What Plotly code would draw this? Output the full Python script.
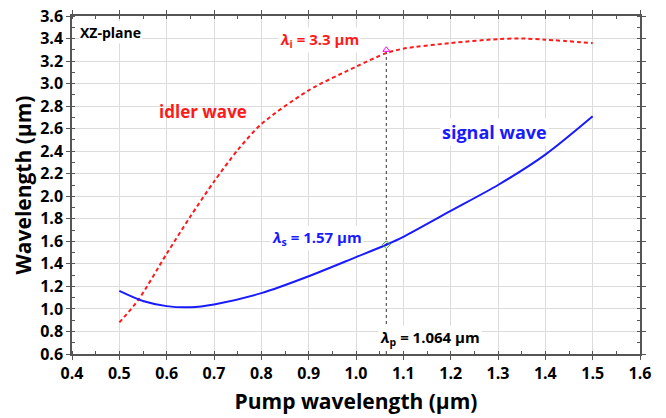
import plotly.graph_objects as go

# Data
idler_x = [0.50, 0.54, 0.60, 0.65, 0.70, 0.75, 0.80, 0.90, 1.00, 1.064, 1.10, 1.20, 1.30, 1.35, 1.40, 1.50]
idler_y = [0.88, 1.08, 1.49, 1.82, 2.13, 2.41, 2.64, 2.94, 3.15, 3.27, 3.31, 3.36, 3.395, 3.40, 3.39, 3.36]

signal_x = [0.50, 0.55, 0.60, 0.65, 0.70, 0.80, 0.90, 1.00, 1.064, 1.10, 1.20, 1.30, 1.40, 1.50]
signal_y = [1.16, 1.07, 1.025, 1.015, 1.04, 1.14, 1.29, 1.46, 1.57, 1.64, 1.87, 2.10, 2.37, 2.71]

pump_wl = 1.064
idler_pt = 3.3
signal_pt = 1.57

x_ticks = [0.4, 0.5, 0.6, 0.7, 0.8, 0.9, 1.0, 1.1, 1.2, 1.3, 1.4, 1.5, 1.6]
y_ticks = [0.6, 0.8, 1.0, 1.2, 1.4, 1.6, 1.8, 2.0, 2.2, 2.4, 2.6, 2.8, 3.0, 3.2, 3.4, 3.6]

FONT = "Open Sans"

fig = go.Figure()
fig.add_trace(go.Scatter(x=[pump_wl, pump_wl], y=[0.6, idler_pt], mode="lines",
                         line=dict(color="#333", width=1, dash="dot"), showlegend=False))
fig.add_trace(go.Scatter(x=idler_x, y=idler_y, mode="lines",
                         line=dict(color="#ff1a1a", width=2, dash="4px,3px", shape="spline", smoothing=0.8),
                         showlegend=False))
fig.add_trace(go.Scatter(x=signal_x, y=signal_y, mode="lines",
                         line=dict(color="#1a1aff", width=2, shape="spline", smoothing=0.8),
                         showlegend=False))
fig.add_trace(go.Scatter(x=[pump_wl], y=[idler_pt], mode="markers",
                         marker=dict(symbol="triangle-up-open", color="#ff00ff", size=6), showlegend=False))
fig.add_trace(go.Scatter(x=[pump_wl], y=[signal_pt], mode="markers",
                         marker=dict(symbol="diamond-open", color="#33aa33", size=6), showlegend=False))

axis_common = dict(
    showline=True, linecolor="#555", linewidth=1.5, mirror="ticks",
    ticks="outside", ticklen=4, tickcolor="#555",
    showgrid=True, gridcolor="#dcdcdc", gridwidth=1,
    tickfont=dict(family=FONT, size=16, color="black", weight="bold"),
    zeroline=False, automargin=False,
)

fig.update_xaxes(range=[0.4, 1.6], tickvals=x_ticks, ticktext=[f"{v:.1f}" for v in x_ticks],
                 minor=dict(dtick=0.05, tick0=0.4, ticks="inside", ticklen=3, tickcolor="#555", showgrid=False),
                 title=dict(text="Pump wavelength (µm)", font=dict(family=FONT, size=21, color="black", weight="bold"), standoff=11),
                 **axis_common)
fig.update_yaxes(range=[0.6, 3.6], tickvals=y_ticks, ticktext=[f"{v:.1f}" for v in y_ticks],
                 minor=dict(dtick=0.1, tick0=0.6, ticks="inside", ticklen=3, tickcolor="#555", showgrid=False),
                 title=dict(text="Wavelength (µm)", font=dict(family=FONT, size=21, color="black", weight="bold"), standoff=3),
                 **axis_common)

def ann(x, y, text, color, size, bg=None, xanchor="left"):
    fig.add_annotation(x=x, y=y, xref="x", yref="y", text=text, showarrow=False,
                       font=dict(family=FONT, size=size, color=color, weight="bold"),
                       xanchor=xanchor, yanchor="middle", bgcolor=bg, borderpad=1)

ann(0.412, 3.45, "XZ-plane", "black", 14, bg="white")
ann(0.676, 2.75, "idler wave", "#ff1a1a", 17, xanchor="center")
ann(0.835, 3.39, "<i>λ</i><sub>i</sub> = 3.3 µm", "#ff1a1a", 15, bg="white")
ann(1.178, 2.57, "signal wave", "#1a1aff", 18, bg="white")
ann(0.818, 1.63, "<i>λ</i><sub>s</sub> = 1.57 µm", "#1a1aff", 15, bg="white")
ann(1.047, 0.74, "<i>λ</i><sub>p</sub> = 1.064 µm", "black", 15, bg="white")

fig.update_layout(width=666, height=418, margin=dict(l=72, r=26, t=16, b=64),
                  plot_bgcolor="white", paper_bgcolor="white", font=dict(family=FONT))

fig.write_html("out.html")
